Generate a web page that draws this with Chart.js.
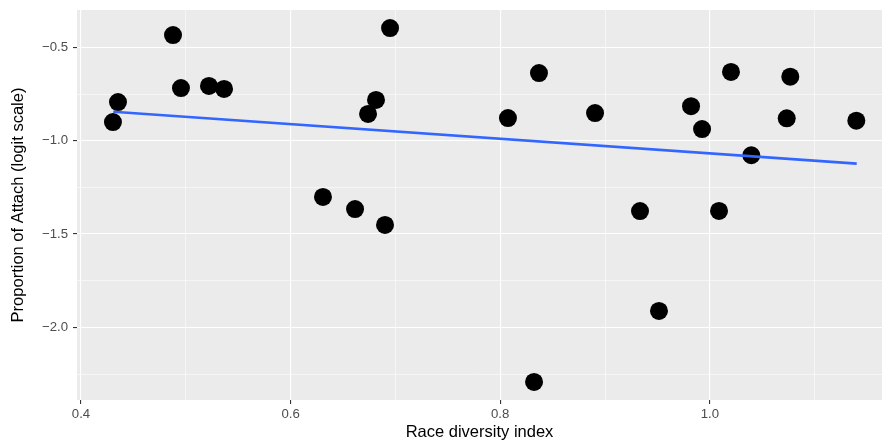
<!DOCTYPE html>
<html>
<head>
<meta charset="utf-8">
<script src="https://cdn.jsdelivr.net/npm/chart.js@4/dist/chart.umd.min.js"></script>
<style>
html,body{margin:0;padding:0;background:#fff;}
canvas{display:block;}
</style>
</head>
<body>
<canvas id="c" width="882" height="443"></canvas>
<script>
// Data
const diversityIndex = [0.4305, 0.4353, 0.4878, 0.4954, 0.5221, 0.5365, 0.6309, 0.6615, 0.6739, 0.6815, 0.6901, 0.6949,
                        0.8074, 0.8323, 0.8370, 0.8905, 0.9334, 0.9515, 0.9821, 0.9926, 1.0088, 1.0202, 1.0396, 1.0734, 1.0768, 1.1398];
const attachLogit    = [-0.900, -0.793, -0.434, -0.718, -0.707, -0.723, -1.301, -1.366, -0.857, -0.782, -1.451, -0.397,
                        -0.879, -2.292, -0.638, -0.852, -1.377, -1.912, -0.815, -0.938, -1.376, -0.632, -1.078, -0.880, -0.657, -0.893];
const fitX = [0.4308, 1.1402];
const fitY = [-0.845, -1.123];
const xMajorTicks = [0.4, 0.6, 0.8, 1.0];
const xMinorTicks = [0.5, 0.7, 0.9, 1.1];
const yMajorTicks = [-0.5, -1.0, -1.5, -2.0];
const yMinorTicks = [-0.75, -1.25, -1.75, -2.25];

const points = diversityIndex.map((x, i) => ({x: x, y: attachLogit[i]}));
const fitLine = fitX.map((x, i) => ({x: x, y: fitY[i]}));

const isMajor = (list, v) => list.some(t => Math.abs(t - v) < 1e-9);

const panelBg = {
  id: 'panelBg',
  beforeDraw(chart) {
    const {ctx, chartArea: a} = chart;
    ctx.save();
    ctx.fillStyle = '#EBEBEB';
    ctx.fillRect(a.left, a.top, a.right - a.left, a.bottom - a.top);
    ctx.restore();
  }
};

const tickFont = {family: '"Liberation Sans", Arial, sans-serif', size: 13.2};
const titleFont = {family: '"Liberation Sans", Arial, sans-serif', size: 16.5};

new Chart(document.getElementById('c'), {
  type: 'scatter',
  data: {
    datasets: [
      {
        type: 'line',
        data: fitLine,
        borderColor: '#3366FF',
        borderWidth: 2.7,
        pointRadius: 0,
        fill: false,
        order: 0
      },
      {
        type: 'scatter',
        data: points,
        backgroundColor: '#000000',
        borderColor: '#000000',
        pointRadius: 9,
        borderWidth: 0,
        order: 1
      }
    ]
  },
  plugins: [panelBg],
  options: {
    responsive: false,
    animation: false,
    devicePixelRatio: 1,
    layout: {autoPadding: false, padding: {left: 0, right: 0, top: 10, bottom: 0}},
    plugins: {legend: {display: false}, tooltip: {enabled: false}},
    scales: {
      x: {
        type: 'linear',
        min: 0.3962,
        max: 1.1643,
        afterBuildTicks(scale) {
          scale.ticks = xMajorTicks.concat(xMinorTicks).sort((a, b) => a - b).map(v => ({value: v}));
        },
        afterFit(scale) { scale.height = 43; scale.paddingLeft = 0; scale.paddingRight = 0; },
        border: {display: false},
        grid: {
          color: '#FFFFFF',
          lineWidth: ctx => isMajor(xMajorTicks, ctx.tick.value) ? 1.1 : 0.55,
          tickColor: ctx => isMajor(xMajorTicks, ctx.tick.value) ? '#333333' : 'rgba(0,0,0,0)',
          tickLength: 4,
          tickWidth: 1.1
        },
        ticks: {
          color: '#4D4D4D',
          font: tickFont,
          padding: 2,
          maxRotation: 0,
          autoSkip: false,
          callback: v => isMajor(xMajorTicks, v) ? v.toFixed(1) : ''
        },
        title: {
          display: true,
          text: 'Race diversity index',
          color: '#000000',
          font: titleFont,
          padding: {top: 0, bottom: 1}
        }
      },
      y: {
        type: 'linear',
        min: -2.389,
        max: -0.30,
        afterBuildTicks(scale) {
          scale.ticks = yMajorTicks.concat(yMinorTicks).sort((a, b) => a - b).map(v => ({value: v}));
        },
        afterFit(scale) { scale.width = 77; scale.paddingTop = 0; scale.paddingBottom = 0; },
        border: {display: false},
        grid: {
          color: '#FFFFFF',
          lineWidth: ctx => isMajor(yMajorTicks, ctx.tick.value) ? 1.1 : 0.55,
          tickColor: ctx => isMajor(yMajorTicks, ctx.tick.value) ? '#333333' : 'rgba(0,0,0,0)',
          tickLength: 4,
          tickWidth: 1.1
        },
        ticks: {
          color: '#4D4D4D',
          font: tickFont,
          padding: 5,
          autoSkip: false,
          callback: v => isMajor(yMajorTicks, v) ? (v < 0 ? '\u2212' : '') + Math.abs(v).toFixed(1) : ''
        },
        title: {
          display: true,
          text: 'Proportion of Attach (logit scale)',
          color: '#000000',
          font: titleFont,
          padding: {top: 9, bottom: 0}
        }
      }
    }
  }
});
</script>
</body>
</html>
